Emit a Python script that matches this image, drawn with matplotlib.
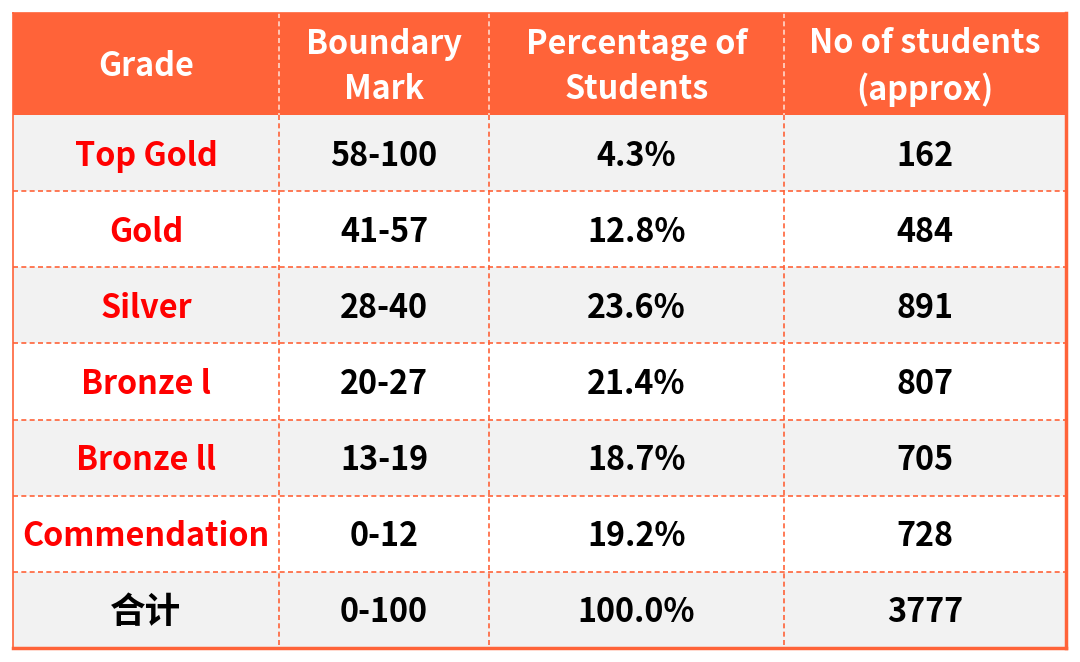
import matplotlib
matplotlib.use("Agg")
import matplotlib.pyplot as plt
from matplotlib.patches import Rectangle

plt.rcParams['font.family'] = ['Noto Sans CJK SC', 'DejaVu Sans']

headers = ["Grade", "Boundary\nMark", "Percentage of\nStudents", "No of students\n(approx)"]
grades = ["Top Gold", "Gold", "Silver", "Bronze l", "Bronze ll", "Commendation", "合计"]
marks = ["58-100", "41-57", "28-40", "20-27", "13-19", "0-12", "0-100"]
percents = [4.3, 12.8, 23.6, 21.4, 18.7, 19.2, 100.0]
students = [162, 484, 891, 807, 705, 728, 3777]

ORANGE = "#FF6339"
GRAY = "#F2F2F2"
RED = "#FF0000"

W, H = 1080, 662
fig = plt.figure(figsize=(W / 100, H / 100), dpi=100)
ax = fig.add_axes([0, 0, 1, 1])
ax.set_xlim(0, W)
ax.set_ylim(H, 0)
ax.axis("off")

col_x = [13, 279, 489, 784, 1066]
top, head_bot = 13, 115
row_h = (648 - head_bot) / len(grades)
row_y = [head_bot + i * row_h for i in range(len(grades) + 1)]

FS = 23.3

# header
ax.add_patch(Rectangle((col_x[0], top), col_x[-1] - col_x[0], head_bot - top,
                       facecolor=ORANGE, edgecolor="none", zorder=1))
for j, h in enumerate(headers):
    cx = (col_x[j] + col_x[j + 1]) / 2
    ax.text(cx, (top + head_bot) / 2 + 3, h, ha="center", va="center", color="white",
            fontsize=FS, fontweight="bold", linespacing=1.45, zorder=5)

# body
for i in range(len(grades)):
    y0, y1 = row_y[i], row_y[i + 1]
    if i % 2 == 0:
        ax.add_patch(Rectangle((col_x[0], y0), col_x[-1] - col_x[0], y1 - y0,
                               facecolor=GRAY, edgecolor="none", zorder=1))
    cy = (y0 + y1) / 2 + 3
    vals = [grades[i], marks[i], f"{percents[i]:.1f}%", str(students[i])]
    for j, v in enumerate(vals):
        cx = (col_x[j] + col_x[j + 1]) / 2
        color = RED if (j == 0 and i < len(grades) - 1) else "black"
        fs = FS * 1.1 if (j == 0 and i == len(grades) - 1) else FS
        ax.text(cx, cy, v, ha="center", va="center", color=color,
                fontsize=fs, fontweight="bold", zorder=5)

# grid lines
for y in row_y[1:-1]:
    ax.plot([col_x[0], col_x[-1]], [y, y], color=ORANGE, lw=1.2, ls=(0, (3, 2)), zorder=3)
for x in col_x[1:-1]:
    ax.plot([x, x], [top, head_bot], color="#FFD8CC", lw=1.2, ls=(0, (3, 2)), zorder=3)
    ax.plot([x, x], [head_bot, row_y[-1]], color=ORANGE, lw=1.2, ls=(0, (3, 2)), zorder=3)

# outer borders
ax.plot([col_x[0], col_x[0]], [top, row_y[-1]], color=ORANGE, lw=1.2, zorder=4)
ax.plot([col_x[-1], col_x[-1]], [top, row_y[-1]], color=ORANGE, lw=2.5, zorder=4)
ax.plot([col_x[0], col_x[-1]], [row_y[-1], row_y[-1]], color=ORANGE, lw=2.5, zorder=4)
ax.plot([col_x[0], col_x[-1]], [top, top], color=ORANGE, lw=1.2, zorder=4)

fig.savefig("out.png", dpi=100)
